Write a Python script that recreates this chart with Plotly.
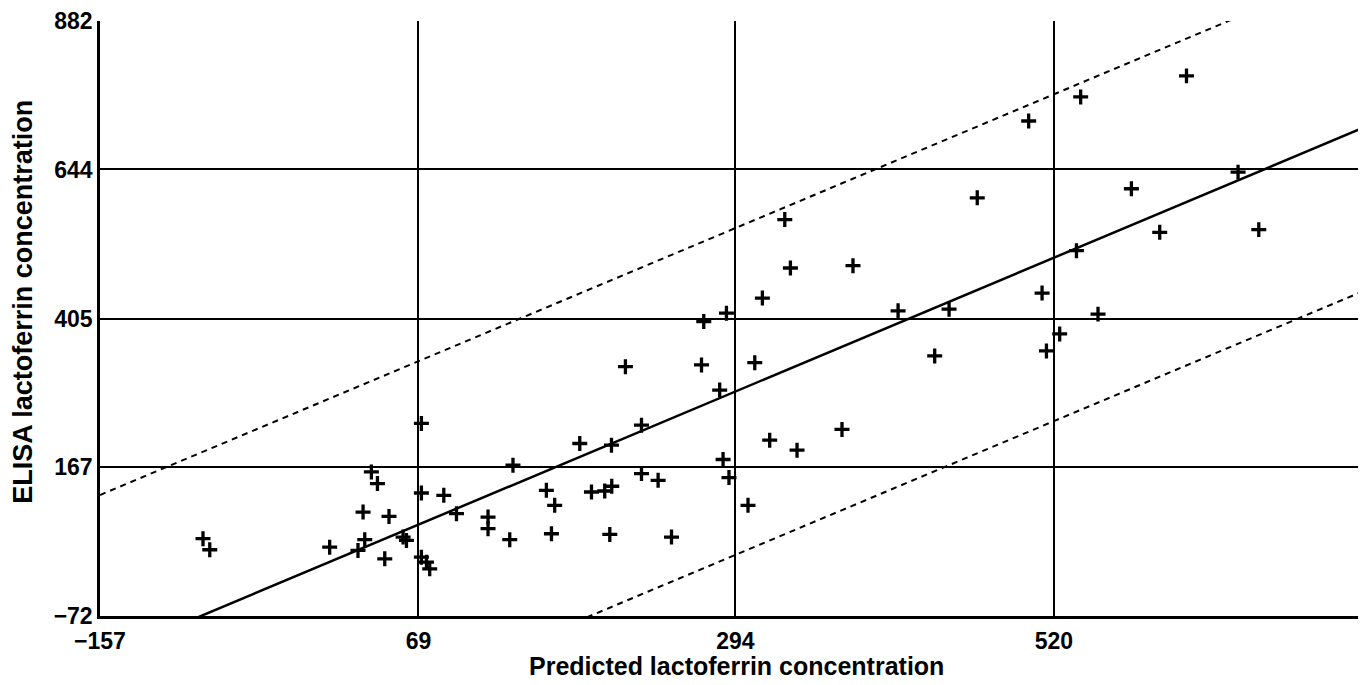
import numpy as np
import plotly.graph_objects as go

# Axis ticks
x_ticks = [-157, 69, 294, 520]
x_tick_labels = ["\u2212157", "69", "294", "520"]
y_ticks = [-72, 167, 405, 644, 882]
y_tick_labels = ["\u221272", "167", "405", "644", "882"]
x_range = [-157, 741.5]
y_range = [-72, 882]

# Measured samples: predicted vs ELISA lactoferrin concentration
predicted = [
    -83.9, -79.1, 6.0, 26.1, 29.7, 30.9, 35.6, 39.9, 45.1, 48.1,
    58.1, 60.5, 71.1, 71.1, 71.1, 74.7, 77.0, 87.0, 96.0, 118.4,
    118.4, 133.8, 136.1, 159.8, 163.4, 165.7, 183.5, 191.8, 201.2, 204.8,
    206.0, 206.2, 215.9, 227.3, 227.3, 239.1, 248.6, 269.9, 271.5, 282.8,
    285.2, 287.6, 289.4, 302.9, 307.7, 313.1, 318.3, 329.0, 333.0, 337.7,
    369.6, 377.4, 409.4, 435.4, 445.6, 465.6, 502.1, 511.6, 514.7, 524.1,
    536.0, 539.0, 551.3, 575.0, 595.1, 614.1, 650.7, 665.4,
]
elisa = [
    51.9, 34.2, 38.4, 33.1, 94.6, 50.3, 159.0, 140.3, 19.7, 87.7,
    54.5, 49.1, 236.8, 125.2, 22.3, 14.3, 3.6, 121.5, 92.1, 86.6,
    68.0, 50.3, 169.7, 129.5, 59.9, 105.4, 204.6, 126.8, 128.4, 58.8,
    201.9, 136.0, 327.8, 234.0, 156.4, 145.6, 54.5, 330.5, 400.1, 290.3,
    178.9, 413.6, 150.0, 105.4, 334.2, 437.7, 209.9, 563.6, 486.0, 193.8,
    227.1, 489.7, 417.3, 345.0, 420.0, 598.5, 721.7, 445.8, 353.0, 380.3,
    513.8, 760.2, 412.0, 613.0, 543.2, 794.0, 639.7, 547.5,
]

# Fitted line and prediction band
fit_slope = 0.949
fit_intercept = 9.0
band_offset = 262.0

xl = np.array(x_range)
y_fit = fit_slope * xl + fit_intercept
y_up = y_fit + band_offset
y_lo = y_fit - band_offset

FONT = "Liberation Sans, Arial, Helvetica, sans-serif"

fig = go.Figure()
fig.add_trace(go.Scatter(x=xl, y=y_up, mode="lines",
                         line=dict(color="black", width=2, dash="6px,5px"),
                         showlegend=False, hoverinfo="skip"))
fig.add_trace(go.Scatter(x=xl, y=y_lo, mode="lines",
                         line=dict(color="black", width=2, dash="6px,5px"),
                         showlegend=False, hoverinfo="skip"))
fig.add_trace(go.Scatter(x=xl, y=y_fit, mode="lines",
                         line=dict(color="black", width=2.5),
                         showlegend=False, hoverinfo="skip"))
fig.add_trace(go.Scatter(x=predicted, y=elisa, mode="markers",
                         marker=dict(symbol="cross-thin", size=10.7, color="black",
                                     line=dict(color="black", width=3.3)),
                         showlegend=False))

fig.update_layout(
    width=1358, height=677,
    margin=dict(l=92, r=0, t=13, b=69),
    paper_bgcolor="white", plot_bgcolor="white",
    font=dict(family=FONT, color="black"),
    xaxis=dict(range=x_range, tickvals=x_ticks, ticktext=x_tick_labels,
               showgrid=True, gridcolor="black", gridwidth=2.3,
               showline=True, linecolor="black", linewidth=2.5,
               zeroline=False, ticks="", ticklabelstandoff=3,
               tickfont=dict(family=FONT, size=23, weight="bold", color="black")),
    yaxis=dict(range=y_range, tickvals=y_ticks, ticktext=y_tick_labels,
               showgrid=True, gridcolor="black", gridwidth=2.3,
               showline=True, linecolor="black", linewidth=2.5,
               zeroline=False, ticks="", ticklabelstandoff=0,
               tickfont=dict(family=FONT, size=23, weight="bold", color="black")),
    annotations=[
        dict(text="Predicted lactoferrin concentration", xref="paper", yref="paper",
             x=0.5, y=0, xanchor="center", yanchor="middle", yshift=-50, xshift=3,
             showarrow=False, font=dict(family=FONT, size=25, weight="bold", color="black")),
        dict(text="ELISA lactoferrin concentration", xref="paper", yref="paper",
             x=0, y=0.528, xanchor="center", yanchor="middle", xshift=-77,
             textangle=-90, showarrow=False,
             font=dict(family=FONT, size=27, weight="bold", color="black")),
    ],
)

fig.write_html("out.html")
